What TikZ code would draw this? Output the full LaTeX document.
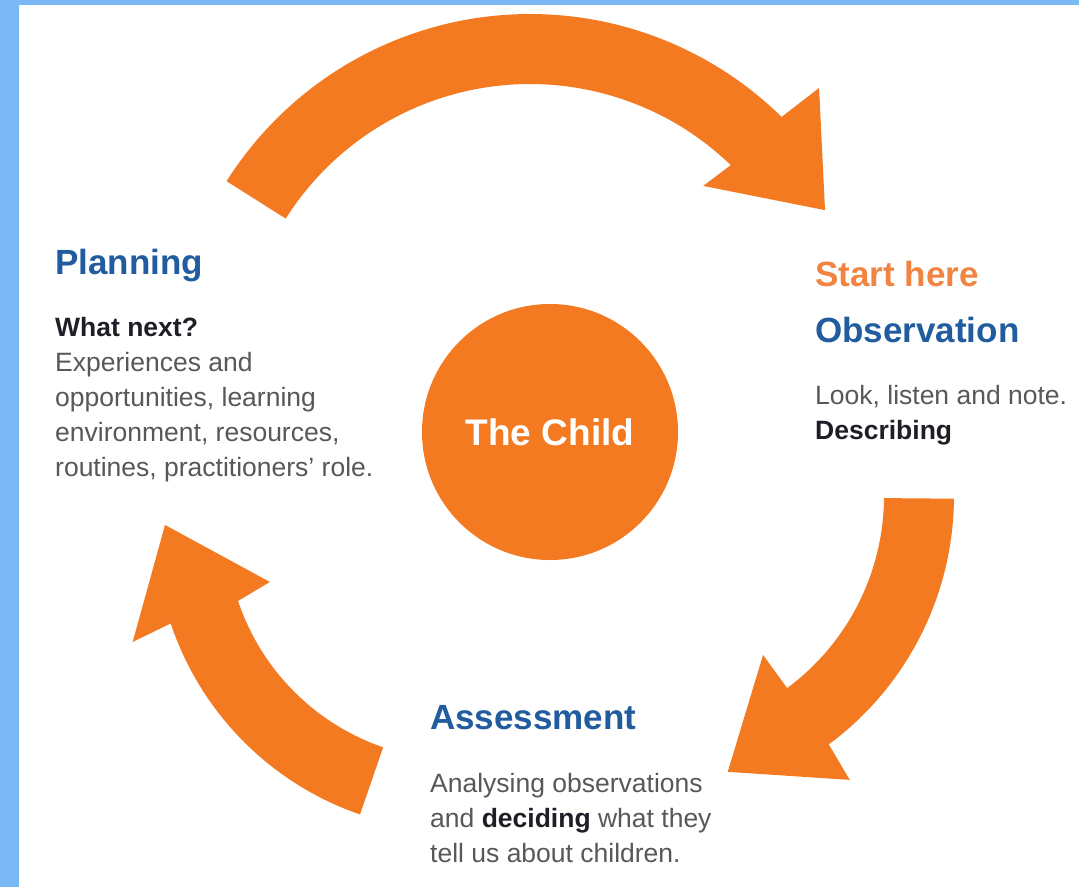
\documentclass[tikz,border=0pt]{standalone}
\usepackage{fontspec}
\setmainfont{Liberation Sans}
\usetikzlibrary{calc}

\definecolor{arroworange}{RGB}{243,122,33}
\definecolor{startorange}{RGB}{240,132,64}
\definecolor{headblue}{RGB}{33,92,158}
\definecolor{bodygray}{RGB}{88,88,88}
\definecolor{bolddark}{RGB}{30,30,38}
\definecolor{frameblue}{RGB}{122,185,245}

\begin{document}
\begin{tikzpicture}[x=1pt,y=-1pt,
  heading/.style={anchor=base west, inner sep=0pt, text=headblue,
    font=\fontsize{35}{40}\selectfont\bfseries},
  starthere/.style={heading, text=startorange},
  body/.style={anchor=base west, inner sep=0pt, text=bodygray,
    font=\fontsize{26.5}{35}\selectfont},
  bodybold/.style={body, text=bolddark, font=\fontsize{26.5}{35}\selectfont\bfseries},
  cyclefill/.style={fill=arroworange}]

% page frame: blue edge on the left and top, white sheet
\useasboundingbox (0,0) rectangle (1079,887);
\fill[frameblue] (0,0) rectangle (1079,887);
\fill[white] (19,5) rectangle (1079,887);

% centres of the three curved arrows
\coordinate (cTop) at (530,373);
\coordinate (cRight) at (645,496);
\coordinate (cLeft) at (459,527);

% top arrow: Planning -> Observation
\fill[cyclefill] ($(cTop)+(212.3:359)$) arc[start angle=212.3,end angle=314.5,radius=359]
  -- ($(cTop)+(315.4:406)$) -- ($(cTop)+(331.1:337)$) -- ($(cTop)+(312.8:255)$)
  -- ($(cTop)+(314.0:289)$) arc[start angle=314.0,end angle=212.3,radius=289] -- cycle;

% right arrow: Observation -> Assessment
\fill[cyclefill] ($(cRight)+(0.5:309)$) arc[start angle=0.5,end angle=53.5,radius=309]
  -- ($(cRight)+(54.2:350)$) -- ($(cRight)+(73.3:288)$) -- ($(cRight)+(53.4:198)$)
  -- ($(cRight)+(53.5:239)$) arc[start angle=53.5,end angle=0.5,radius=239] -- cycle;

% left arrow: Assessment -> Planning
\fill[cyclefill] ($(cLeft)+(109:304)$) arc[start angle=109,end angle=161.5,radius=304]
  -- ($(cLeft)+(160.6:346)$) -- ($(cLeft)+(180.4:294)$) -- ($(cLeft)+(163.8:197)$)
  -- ($(cLeft)+(161.5:233)$) arc[start angle=161.5,end angle=109,radius=233] -- cycle;

% centre
\node[circle, fill=arroworange, minimum size=256, inner sep=0pt, text=white,
  font=\fontsize{37}{40}\selectfont\bfseries] (child) at (550,432) {The Child};

% Planning
\node[heading] (plan) at (55,274) {Planning};
\node[bodybold] (plan1) at (55,336) {What next?};
\node[body] (plan2) at (55,371) {Experiences and};
\node[body] (plan3) at (55,406) {opportunities, learning};
\node[body] (plan4) at (55,441) {environment, resources,};
\node[body] (plan5) at (55,476) {routines, practitioners’ role.};

% Observation
\node[starthere] (start) at (815,286) {Start here};
\node[heading] (obs) at (815,342) {Observation};
\node[body] (obs1) at (815,404) {Look, listen and note.};
\node[bodybold] (obs2) at (815,439) {Describing};

% Assessment
\node[heading] (assess) at (430,729) {Assessment};
\node[body] (ass1) at (430,792) {Analysing observations};
\node[body] (ass2) at (430,827) {and \textcolor{bolddark}{\bfseries deciding} what they};
\node[body] (ass3) at (430,862) {tell us about children.};
\end{tikzpicture}
\end{document}
